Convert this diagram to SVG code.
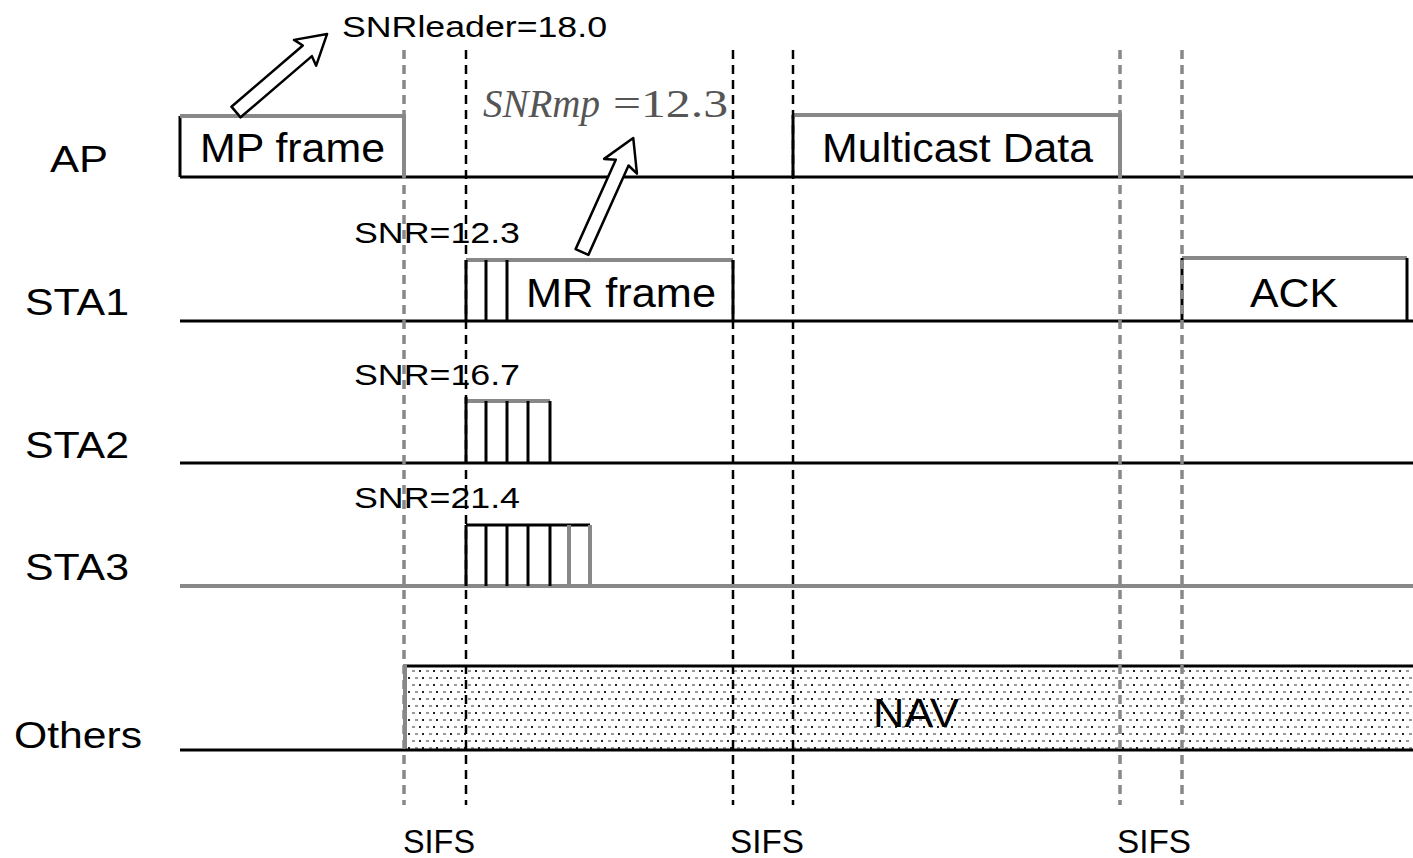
<svg xmlns="http://www.w3.org/2000/svg" width="1413" height="858" viewBox="0 0 1413 858">
<style>
text{font-family:"Liberation Sans",Arial,sans-serif;fill:#000}
.lbl{font-size:36px}
.frm{font-size:40px}
.snr{font-size:29px}
.sifs{font-size:33px}
.tl{stroke:#000;stroke-width:3;fill:none}
.tlg{stroke:#888;stroke-width:4;fill:none}
.dk{stroke:#000;stroke-width:2.5;stroke-dasharray:9 6;fill:none}
.dg{stroke:#888;stroke-width:3.5;stroke-dasharray:9 6;fill:none}
.ln{stroke:#000;stroke-width:3;fill:none}
.gtop{stroke:#888;stroke-width:4;fill:none}
.arr{fill:#fff;stroke:#000;stroke-width:2.5;stroke-linejoin:round}
.mp{font-family:"Liberation Serif","Times New Roman",serif;font-size:40px;fill:#555}
</style>
<defs>
<pattern id="dots" width="14" height="14" patternUnits="userSpaceOnUse" x="404" y="668">
<rect width="14" height="14" fill="#fff"/>
<rect x="1" y="2" width="2" height="2" fill="#222"/>
<rect x="8" y="2" width="3" height="2" fill="#999"/>
<rect x="4" y="9" width="2" height="2" fill="#222"/>
<rect x="11" y="9" width="3" height="2" fill="#999"/>
</pattern>
</defs>
<rect width="1413" height="858" fill="#fff"/>

<g id="nav">
<rect x="404" y="666" width="1009" height="84" fill="url(#dots)"/>
<line x1="404" y1="666" x2="1413" y2="666" class="ln"/>
<line x1="405" y1="664" x2="405" y2="750" stroke="#888" stroke-width="4"/>
<text x="873" y="727" class="frm" textLength="86" lengthAdjust="spacingAndGlyphs">NAV</text>
</g>

<g id="timelines">
<line x1="180" y1="177" x2="1413" y2="177" class="tl"/>
<line x1="180" y1="321" x2="1413" y2="321" class="tl"/>
<line x1="180" y1="463" x2="1413" y2="463" class="tl"/>
<line x1="180" y1="586" x2="1413" y2="586" class="tlg"/>
<line x1="180" y1="750" x2="1413" y2="750" class="tl"/>
</g>

<g id="labels">
<text x="50" y="172" class="lbl" textLength="58" lengthAdjust="spacingAndGlyphs">AP</text>
<text x="25" y="315" class="lbl" textLength="104" lengthAdjust="spacingAndGlyphs">STA1</text>
<text x="25" y="458" class="lbl" textLength="104" lengthAdjust="spacingAndGlyphs">STA2</text>
<text x="25" y="580" class="lbl" textLength="104" lengthAdjust="spacingAndGlyphs">STA3</text>
<text x="14" y="748" class="lbl" textLength="128" lengthAdjust="spacingAndGlyphs">Others</text>
</g>

<g id="mp-frame">
<line x1="180" y1="116" x2="180" y2="177" class="ln"/>
<line x1="180" y1="116" x2="404" y2="116" class="gtop"/>
<line x1="404" y1="114" x2="404" y2="177" stroke="#888" stroke-width="4"/>
<text x="200" y="162" class="frm" textLength="185" lengthAdjust="spacingAndGlyphs">MP frame</text>
</g>

<g id="multicast-data">
<line x1="793" y1="115" x2="793" y2="177" class="ln"/>
<line x1="793" y1="115" x2="1120" y2="115" class="gtop"/>
<line x1="1120" y1="113" x2="1120" y2="177" stroke="#888" stroke-width="4"/>
<text x="822" y="162" class="frm" textLength="271" lengthAdjust="spacingAndGlyphs">Multicast Data</text>
</g>

<g id="mr-frame">
<line x1="466" y1="260" x2="733" y2="260" class="gtop"/>
<line x1="466" y1="260" x2="466" y2="321" class="ln"/>
<line x1="486" y1="260" x2="486" y2="321" class="ln"/>
<line x1="507" y1="260" x2="507" y2="321" class="ln"/>
<line x1="733" y1="260" x2="733" y2="321" class="ln"/>
<text x="526" y="307" class="frm" textLength="190" lengthAdjust="spacingAndGlyphs">MR frame</text>
</g>

<g id="ack">
<line x1="1182" y1="258" x2="1407" y2="258" class="gtop"/>
<line x1="1182" y1="258" x2="1182" y2="321" class="ln"/>
<line x1="1407" y1="258" x2="1407" y2="321" class="ln"/>
<text x="1250" y="307" class="frm" textLength="88" lengthAdjust="spacingAndGlyphs">ACK</text>
</g>

<g id="sta2-slots">
<line x1="466" y1="401" x2="550" y2="401" class="gtop"/>
<line x1="466" y1="397" x2="466" y2="463" class="ln"/>
<line x1="486" y1="401" x2="486" y2="463" class="ln"/>
<line x1="507" y1="401" x2="507" y2="463" class="ln"/>
<line x1="528" y1="401" x2="528" y2="463" class="ln"/>
<line x1="550" y1="401" x2="550" y2="463" class="ln"/>
</g>

<g id="sta3-slots">
<line x1="466" y1="525" x2="590" y2="525" class="ln"/>
<line x1="466" y1="525" x2="466" y2="586" class="ln"/>
<line x1="486" y1="525" x2="486" y2="586" class="ln"/>
<line x1="507" y1="525" x2="507" y2="586" class="ln"/>
<line x1="528" y1="525" x2="528" y2="586" class="ln"/>
<line x1="550" y1="525" x2="550" y2="586" class="ln"/>
<line x1="569" y1="525" x2="569" y2="586" stroke="#888" stroke-width="4"/>
<line x1="590" y1="525" x2="590" y2="586" stroke="#888" stroke-width="4"/>
</g>

<g id="connectors">
<line x1="404" y1="50" x2="404" y2="805" class="dg"/>
<line x1="466" y1="50" x2="466" y2="805" class="dk"/>
<line x1="733" y1="50" x2="733" y2="805" class="dk"/>
<line x1="793" y1="50" x2="793" y2="805" class="dk"/>
<line x1="1120" y1="50" x2="1120" y2="805" class="dg"/>
<line x1="1182" y1="50" x2="1182" y2="805" class="dg"/>
<polygon class="arr" transform="translate(236,112) rotate(-40.6)" points="0,-7 94,-7 91,-17 120,0 91,17 94,7 0,7"/>
<polygon class="arr" transform="translate(582,252) rotate(-65.8)" points="0,-7 98,-7 94,-18 125,0 94,18 98,7 0,7"/>
</g>

<g id="annotations">
<text x="342" y="37" class="snr" textLength="265" lengthAdjust="spacingAndGlyphs">SNRleader=18.0</text>
<text x="483" y="117" class="mp" font-style="italic" textLength="117" lengthAdjust="spacingAndGlyphs">SNRmp</text>
<text x="613" y="117" class="mp" textLength="115" lengthAdjust="spacingAndGlyphs">=12.3</text>
<text x="354" y="243" class="snr" textLength="166" lengthAdjust="spacingAndGlyphs">SNR=12.3</text>
<text x="354" y="385" class="snr" textLength="166" lengthAdjust="spacingAndGlyphs">SNR=16.7</text>
<text x="354" y="508" class="snr" textLength="166" lengthAdjust="spacingAndGlyphs">SNR=21.4</text>
<text x="403" y="853" class="sifs" textLength="72" lengthAdjust="spacingAndGlyphs">SIFS</text>
<text x="730" y="853" class="sifs" textLength="74" lengthAdjust="spacingAndGlyphs">SIFS</text>
<text x="1117" y="853" class="sifs" textLength="74" lengthAdjust="spacingAndGlyphs">SIFS</text>
</g>
</svg>
